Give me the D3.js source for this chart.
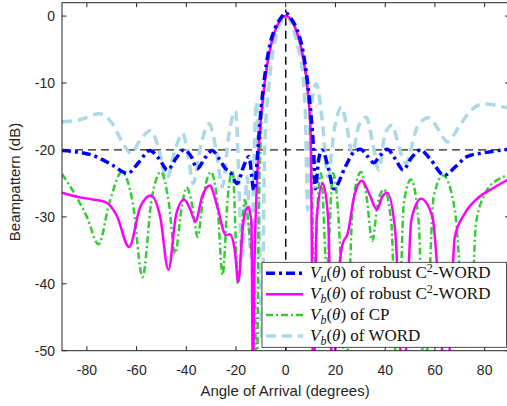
<!DOCTYPE html>
<html>
<head>
<meta charset="utf-8">
<script src="https://cdn.jsdelivr.net/npm/d3@7"></script>
<style>
body { margin: 0; background: #fff; }
svg { display: block; }
</style>
</head>
<body>
<div id="chart"></div>
<script>
// ticks
const xTicks = [-80, -60, -40, -20, 0, 20, 40, 60, 80];
const yTicks = [-50, -40, -30, -20, -10, 0];
const refLevel = -20;

// V_u of robust C2-WORD
const angVu = [-90, -84, -77.7, -70, -63.6, -59, -54.7, -51, -47.6, -44, -41, -38, -35.6, -32.5, -29.6, -27, -24.2, -22.5, -19.5, -17, -14.8, -12.8,
  -11.2, -10.2, -8.8, -6.8, -4.5, -2.2, 0, 2.2, 4.5, 6.8, 8.8, 10.2, 11.2, 11.9, 13.2, 14.6, 17, 19.3, 24, 27, 30, 33, 35.4, 38, 40.8,
  44, 47.2, 50.5, 54.2, 58, 63.8, 68, 72.9, 80, 90];
const dbVu = [-20.1, -20.3, -20.8, -22.2, -23.5, -21.8, -20.1, -21.3, -23.0, -21.2, -20.0, -21.0, -22.8, -21.2, -20.1, -21.2, -22.8, -23.3, -25.0, -22.5, -21.0, -26.0,
  -20, -15, -10, -5, -2, -0.4, 0.5, -0.4, -2, -5, -10, -15, -20, -25.8, -21.5, -20.0, -22.5, -25.8, -22.5, -20.5, -19.9, -21.0, -21.9, -20.8, -19.9,
  -21.3, -23.0, -21.2, -20.0, -21.3, -23.8, -22.6, -21.0, -20.4, -19.9];

// V_b of robust C2-WORD
const angVbRob = [-90, -84, -77.7, -72.4, -68, -63, -58.5, -54.3, -50.5, -47.2, -44, -40.9, -38.5, -36.4, -33.5, -30.6, -27.5, -24.1, -22.5, -20.5, -19.1, -17, -15, -13.8, -13.2, -12.7,
  -11.6, -10.5, -8.8, -6.8, -4.5, -2.2, 0, 2.2, 4.5, 6.8, 8.8, 10, 11.1, 12.5, 14.9, 17, 19, 21, 22.9, 24.9, 27.5, 30.6, 33.5, 36.7, 38.8, 40.8,
  44, 47.3, 50.5, 54.4, 59, 64.8, 68, 72, 77.9, 83, 90];
const dbVbRob = [-26.4, -27.0, -27.4, -27.8, -29.8, -34.5, -28.5, -26.8, -30, -37.9, -29.5, -27.4, -28.8, -30.7, -26.8, -25.3, -28.5, -32.7, -32.6, -35, -39.7, -30.5, -28.5, -31, -56, -40,
  -25, -17.5, -11, -5.8, -2.4, -0.6, 0, -0.6, -2.4, -5.8, -11, -17.5, -56, -30, -25, -30, -56, -40, -34, -32.5, -27, -24.6, -26.5, -28.9, -27, -26.4,
  -32, -56, -30.5, -27.3, -30, -56, -33, -29.5, -27, -25.8, -24.3];

// V_b of CP
const angCp = [-90, -85, -80, -75.3, -71, -65.9, -61.5, -57.6, -54, -50.2, -47, -44.5, -42, -39.9, -37.5, -35.5, -33, -30.1, -27.5, -25.4, -23.3, -21.4, -19.2, -16.5, -14.5, -12.5, -11.6,
  -11, -10, -8.8, -6.8, -4.5, -2.2, 0, 2.2, 4.5, 6.8, 8.8, 10, 10.8, 11.3, 12, 14.2, 16.5, 19, 21.5, 24, 27, 30.3, 32.5, 34.8, 37, 39.5,
  42.5, 44.8, 47.5, 50.4, 53.5, 55.8, 59.5, 63.3, 68, 73.7, 76.5, 80.5, 85, 90];
const dbCp = [-23.6, -26.5, -30, -34.1, -28, -23.3, -28, -39, -27.5, -23.3, -28, -35.5, -29, -25.6, -28.5, -33, -26.5, -23.3, -28, -38.7, -27, -23, -40, -27.5, -33, -42, -56,
  -32, -18, -11.5, -6, -2.5, -0.6, 0, -0.6, -2.5, -6, -11.5, -18, -30, -56, -35, -23.5, -38, -23.5, -32, -56, -28, -23.3, -27, -33.6, -28, -25.9,
  -31, -56, -28, -24.4, -31, -56, -27, -23.8, -29, -56, -31, -26.3, -24.5, -23.8];

// V_b of WORD
const angWord = [-90, -83, -75, -69.7, -65.5, -62.3, -58.5, -54.3, -51, -48, -44.5, -41.5, -39.2, -37.3, -34, -30.8, -28, -25.5, -22.8, -20.2, -17.5, -15.5, -14, -11.8, -9.6,
  -8.5, -6.7, -4.5, -2.2, 0, 2.2, 4.5, 7.2, 8, 8.8, 9.8, 12.2, 14.5, 17, 19.5, 22.4, 24.8, 26.7, 29.5, 32.4, 35, 37.4, 40, 42.8, 45.5, 48.2,
  53, 57.5, 61.5, 65, 70, 74.5, 79.6, 84, 90];
const dbWord = [-15.8, -15.5, -14.6, -16.1, -19, -20.5, -18.5, -17.1, -20, -24.4, -20, -17.5, -21, -25, -19, -16.1, -20, -25.5, -17.5, -14.2, -36, -24, -36, -12.8, -48,
  -20, -10, -4, -1, 0, -1, -4, -10, -16, -29, -16, -10.1, -15, -24, -17, -13.6, -17, -20.5, -16.2, -15.1, -19, -23, -17.5, -16.3, -19.5, -22,
  -16.5, -15.2, -17, -18.8, -16.3, -14.1, -13.1, -13.3, -13.8];

const series = [
  { ang: angWord, db: dbWord, color: "#add8e6", width: 3.5, dash: "10,6" },
  { ang: angCp, db: dbCp, color: "#33cc33", width: 2.5, dash: "7,3,2,3" },
  { ang: angVbRob, db: dbVbRob, color: "#ff00ff", width: 2.5, dash: null },
  { ang: angVu, db: dbVu, color: "#0000ff", width: 3.5, dash: "9,4,3,4" }
];
// legend order
const legendOrder = [3, 2, 1, 0];
const legendLabels = [
  [["V", "i"], ["u", "sub"], ["(", ""], ["θ", "i"], [") of robust C", ""], ["2", "sup"], ["-WORD", ""]],
  [["V", "i"], ["b", "sub"], ["(", ""], ["θ", "i"], [") of robust C", ""], ["2", "sup"], ["-WORD", ""]],
  [["V", "i"], ["b", "sub"], ["(", ""], ["θ", "i"], [") of CP", ""]],
  [["V", "i"], ["b", "sub"], ["(", ""], ["θ", "i"], [") of WORD", ""]]
];

const W = 507, H = 406;
const margin = { top: 2.7, left: 62, right: 509.5, bottom: 350.7 };
const axisColor = "#262626";

const svg = d3.select("#chart").append("svg")
  .attr("width", W)
  .attr("height", H)
  .style("font-family", "'Liberation Sans', Arial, sans-serif");

const x = d3.scaleLinear().domain([-90, 90]).range([margin.left, margin.right]);
const y = d3.scaleLinear().domain([-50, 2]).range([margin.bottom, margin.top]);

svg.append("defs").append("clipPath").attr("id", "plotclip")
  .append("rect")
  .attr("x", margin.left).attr("y", margin.top)
  .attr("width", margin.right - margin.left).attr("height", margin.bottom - margin.top);

const plot = svg.append("g").attr("clip-path", "url(#plotclip)");

// reference lines
plot.append("line")
  .attr("x1", x(-90)).attr("x2", x(90))
  .attr("y1", y(refLevel)).attr("y2", y(refLevel))
  .attr("stroke", "#222").attr("stroke-width", 1.3).attr("stroke-dasharray", "8,5");
plot.append("line")
  .attr("x1", x(0)).attr("x2", x(0))
  .attr("y1", y(-50)).attr("y2", y(1))
  .attr("stroke", "#111").attr("stroke-width", 1.5).attr("stroke-dasharray", "8,5");

const line = d3.line()
  .x(d => x(d[0]))
  .y(d => y(d[1]))
  .curve(d3.curveMonotoneX);

series.forEach(s => {
  const pts = s.ang.map((a, i) => [a, s.db[i]]);
  plot.append("path")
    .datum(pts)
    .attr("d", line)
    .attr("fill", "none")
    .attr("stroke", s.color)
    .attr("stroke-width", s.width)
    .attr("stroke-dasharray", s.dash);
});

// axes box
svg.append("rect")
  .attr("x", margin.left).attr("y", margin.top)
  .attr("width", margin.right - margin.left).attr("height", margin.bottom - margin.top)
  .attr("fill", "none").attr("stroke", axisColor).attr("stroke-width", 1);

const tickLen = 4.5;
xTicks.forEach(t => {
  svg.append("line").attr("x1", x(t)).attr("x2", x(t))
    .attr("y1", margin.bottom).attr("y2", margin.bottom - tickLen)
    .attr("stroke", axisColor);
  svg.append("line").attr("x1", x(t)).attr("x2", x(t))
    .attr("y1", margin.top).attr("y2", margin.top + tickLen)
    .attr("stroke", axisColor);
  svg.append("text").attr("x", x(t)).attr("y", 375)
    .attr("text-anchor", "middle").attr("font-size", 14).attr("fill", axisColor)
    .text(t);
});
yTicks.forEach(t => {
  svg.append("line").attr("x1", margin.left).attr("x2", margin.left + tickLen)
    .attr("y1", y(t)).attr("y2", y(t)).attr("stroke", axisColor);
  svg.append("line").attr("x1", margin.right).attr("x2", margin.right - tickLen)
    .attr("y1", y(t)).attr("y2", y(t)).attr("stroke", axisColor);
  svg.append("text").attr("x", 55).attr("y", y(t) + 5)
    .attr("text-anchor", "end").attr("font-size", 14).attr("fill", axisColor)
    .text(t);
});

svg.append("text").attr("x", 285).attr("y", 396)
  .attr("text-anchor", "middle").attr("font-size", 15).attr("fill", axisColor)
  .text("Angle of Arrival (degrees)");
svg.append("text")
  .attr("transform", "translate(20,182) rotate(-90)")
  .attr("text-anchor", "middle").attr("font-size", 15).attr("fill", axisColor)
  .text("Beampattern (dB)");

// legend
const lg = svg.append("g");
lg.append("rect")
  .attr("x", 262).attr("y", 262.3).attr("width", 244.5).attr("height", 85)
  .attr("fill", "#fff").attr("stroke", axisColor).attr("stroke-width", 0.8);
legendOrder.forEach((si, k) => {
  const s = series[si];
  const cy = 273.3 + k * 20.9;
  lg.append("line").attr("x1", 266).attr("x2", 303).attr("y1", cy).attr("y2", cy)
    .attr("stroke", s.color).attr("stroke-width", s.width).attr("stroke-dasharray", s.dash);
  const txt = lg.append("text").attr("x", 310).attr("y", cy + 5)
    .attr("font-family", "'Liberation Serif', 'Times New Roman', serif")
    .attr("font-size", 17).attr("fill", "#111");
  let shift = 0;
  legendLabels[k].forEach(([t, st]) => {
    const ts = txt.append("tspan").text(t);
    let target = 0;
    if (st === "sub") { target = 4; ts.attr("font-size", 12).attr("font-style", "italic"); }
    else if (st === "sup") { target = -6; ts.attr("font-size", 12); }
    else if (st === "i") { ts.attr("font-style", "italic"); }
    if (target !== shift) { ts.attr("dy", target - shift); shift = target; }
  });
});
</script>
</body>
</html>
